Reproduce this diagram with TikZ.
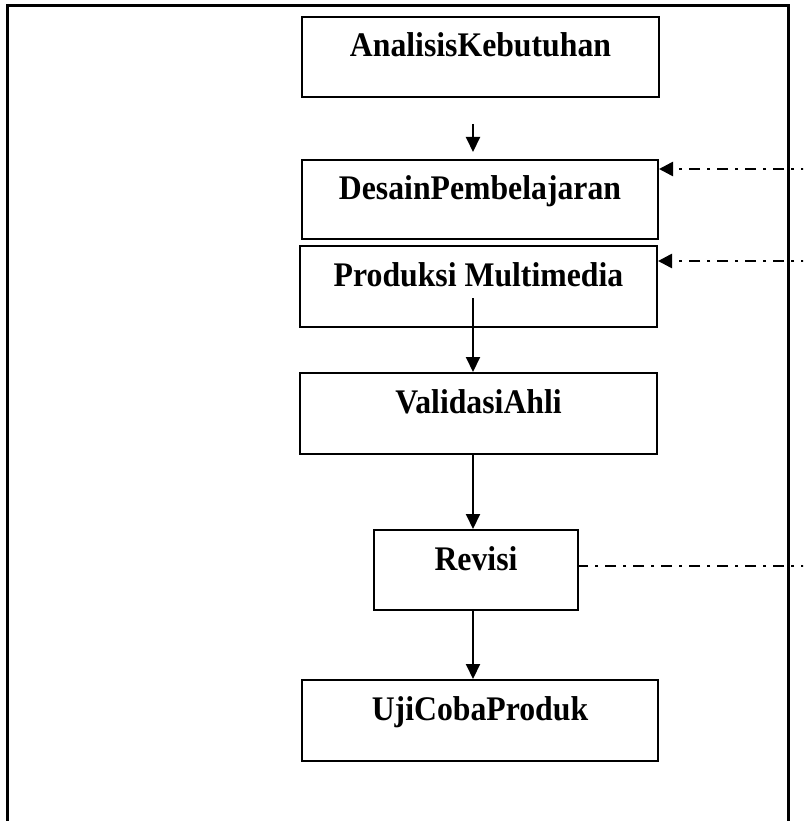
\documentclass[tikz,border=0pt]{standalone}
\usepackage{fontspec}
\setmainfont{Liberation Serif}
\newfontfamily\stagefont[FakeStretch=0.92]{Liberation Serif}
\usetikzlibrary{arrows.meta}
\begin{document}
\begin{tikzpicture}[x=1pt,y=-1pt,
  stage/.style={draw, line width=2pt, rectangle, inner sep=0pt,
    text height=21pt, text depth=21pt,
    font=\stagefont\fontsize{34.5}{40}\selectfont\bfseries},
  flow/.style={line width=2pt, -{Triangle[length=15pt,width=14pt]}},
  fb/.style={line width=2.6pt, dash pattern=on 11pt off 7pt on 3pt off 7pt},
  fbtip/.style={-{Triangle[length=14pt,width=14pt]}},
  frame/.style={line width=3pt}]
\useasboundingbox (0,0) rectangle (803,821);
\clip (0,0) rectangle (803,821);
% outer frame (cut off at bottom and right)
\draw[frame] (7,840) -- (7,6) -- (788,6) -- (788,840);

% stages
\node[stage, minimum width=357pt, minimum height=80pt] (a) at (480.5,57) {AnalisisKebutuhan};
\node[stage, minimum width=356pt, minimum height=79pt] (d) at (480,199.5) {DesainPembelajaran};
\node[stage, minimum width=357pt, minimum height=81pt] (p) at (478.5,286.5) {Produksi Multimedia};
\node[stage, minimum width=357pt, minimum height=81pt] (v) at (478.5,413.5) {ValidasiAhli};
\node[stage, minimum width=204pt, minimum height=80pt] (r) at (476,570) {Revisi};
\node[stage, minimum width=356pt, minimum height=81pt] (u) at (480,720.5) {UjiCobaProduk};

% flow arrows
\coordinate (s1) at (473,124);
\coordinate (e1) at (473,152);
\draw[flow] (s1) -- (e1);
\coordinate (s2) at (473,298);
\draw[flow] (s2) -- (s2 |- v.north);
\draw[flow] (v.south -| s2) -- (r.north -| s2);
\draw[flow] (r.south -| s2) -- (u.north -| s2);

% feedback lines
\coordinate (f1) at (812,169);
\coordinate (f2) at (812,261);
\coordinate (f3) at (812,566);
\draw[fb, fbtip] (f1) -- (f1 -| d.east);
\draw[fb, fbtip] (f2) -- (f2 -| p.east);
\draw[fb] (f3) -- (r.east |- f3);
\end{tikzpicture}
\end{document}
